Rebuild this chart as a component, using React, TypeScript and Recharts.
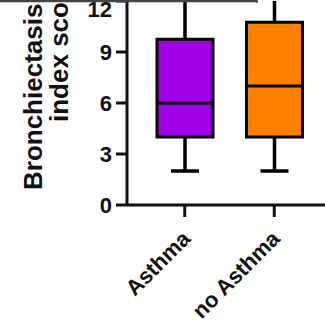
import { ComposedChart, Bar, XAxis, YAxis } from 'recharts'

// Bronchiectasis index score by group
const categories = ['Asthma', 'no Asthma']
const mins = [2, 2]
const q1s = [4, 4]
const medians = [6, 7]
const q3s = [9.75, 10.75]
const maxes = [15, 14] // whisker tops run off the cropped top edge
const yTicks = [0, 3, 6, 9, 12]

const colors = ['#A100E6', '#FF8000']
const FONT = '"Liberation Sans", Arial, sans-serif'

const chartData = categories.map((name, i) => ({
  name,
  box: [q1s[i], q3s[i]],
  min: mins[i],
  q1: q1s[i],
  median: medians[i],
  q3: q3s[i],
  max: maxes[i],
}))

// box drawn from the range bar [q1, q3]; whiskers extrapolated with the same scale
const BoxShape = (props: any) => {
  const { x, y, width, height, payload, index } = props
  const top = Math.min(y, y + height)
  const h = Math.abs(height)
  const k = h / (payload.q3 - payload.q1)
  const py = (v: number) => top + (payload.q3 - v) * k
  const cx = x + width / 2
  const capW = width / 2
  return (
    <g>
      <line x1={cx} x2={cx} y1={py(payload.max)} y2={py(payload.q3)} stroke="#000" strokeWidth={3.5} />
      <line x1={cx} x2={cx} y1={py(payload.q1)} y2={py(payload.min)} stroke="#000" strokeWidth={3.5} />
      <line x1={cx - capW / 2} x2={cx + capW / 2} y1={py(payload.min)} y2={py(payload.min)} stroke="#000" strokeWidth={3.5} />
      <rect x={x} y={top} width={width} height={h} fill={colors[index]} stroke="#000" strokeWidth={3} />
      <line x1={x} x2={x + width} y1={py(payload.median)} y2={py(payload.median)} stroke="#000" strokeWidth={3} />
    </g>
  )
}

const XTick = (props: any) => {
  const { x, y, payload } = props
  const ax = x + 7
  const ay = y + 21
  return (
    <text
      x={ax}
      y={ay}
      transform={`rotate(-45, ${ax}, ${ay})`}
      textAnchor="end"
      fontFamily={FONT}
      fontWeight="bold"
      fontSize={22}
      fill="#111"
    >
      {payload.value}
    </text>
  )
}

const YTick = (props: any) => {
  const { x, y, payload } = props
  return (
    <text x={x} y={y} dy="0.36em" textAnchor="end" fontFamily={FONT} fontWeight="bold" fontSize={22} fill="#111">
      {payload.value}
    </text>
  )
}

export default function App() {
  return (
    <div style={{ position: 'absolute', left: 0, top: 0, width: 325, height: 332, overflow: 'hidden', background: '#fff' }}>
      <ComposedChart width={340} height={332} data={chartData} margin={{ top: 1, right: 8, left: 0, bottom: 0 }}>
        <XAxis
          dataKey="name"
          height={127}
          padding={{ left: 13, right: 13 }}
          tick={<XTick />}
          tickSize={12}
          tickMargin={2}
          axisLine={{ stroke: '#111', strokeWidth: 3 }}
          tickLine={{ stroke: '#111', strokeWidth: 3 }}
          interval={0}
        />
        <YAxis
          width={127}
          domain={[0, 12]}
          ticks={yTicks}
          allowDataOverflow
          tickSize={11}
          tickMargin={4}
          axisLine={{ stroke: '#111', strokeWidth: 3 }}
          tickLine={{ stroke: '#111', strokeWidth: 3 }}
          tick={<YTick />}
        />
        <Bar dataKey="box" barSize={56} shape={<BoxShape />} isAnimationActive={false} />
      </ComposedChart>
      <svg width={325} height={332} style={{ position: 'absolute', left: 0, top: 0, pointerEvents: 'none' }}>
        <text
          x={42}
          y={190}
          transform="rotate(-90, 42, 190)"
          fontFamily={FONT}
          fontWeight="bold"
          fontSize={26}
          fill="#111"
        >
          Bronchiectasis
        </text>
        <text
          x={68}
          y={122}
          transform="rotate(-90, 68, 122)"
          fontFamily={FONT}
          fontWeight="bold"
          fontSize={26}
          fill="#111"
        >
          index score
        </text>
        <line x1={0} x2={257} y1={1} y2={1} stroke="#444" strokeWidth={2.5} />
        <line x1={257} x2={257} y1={0} y2={3} stroke="#444" strokeWidth={1.5} />
      </svg>
    </div>
  )
}
